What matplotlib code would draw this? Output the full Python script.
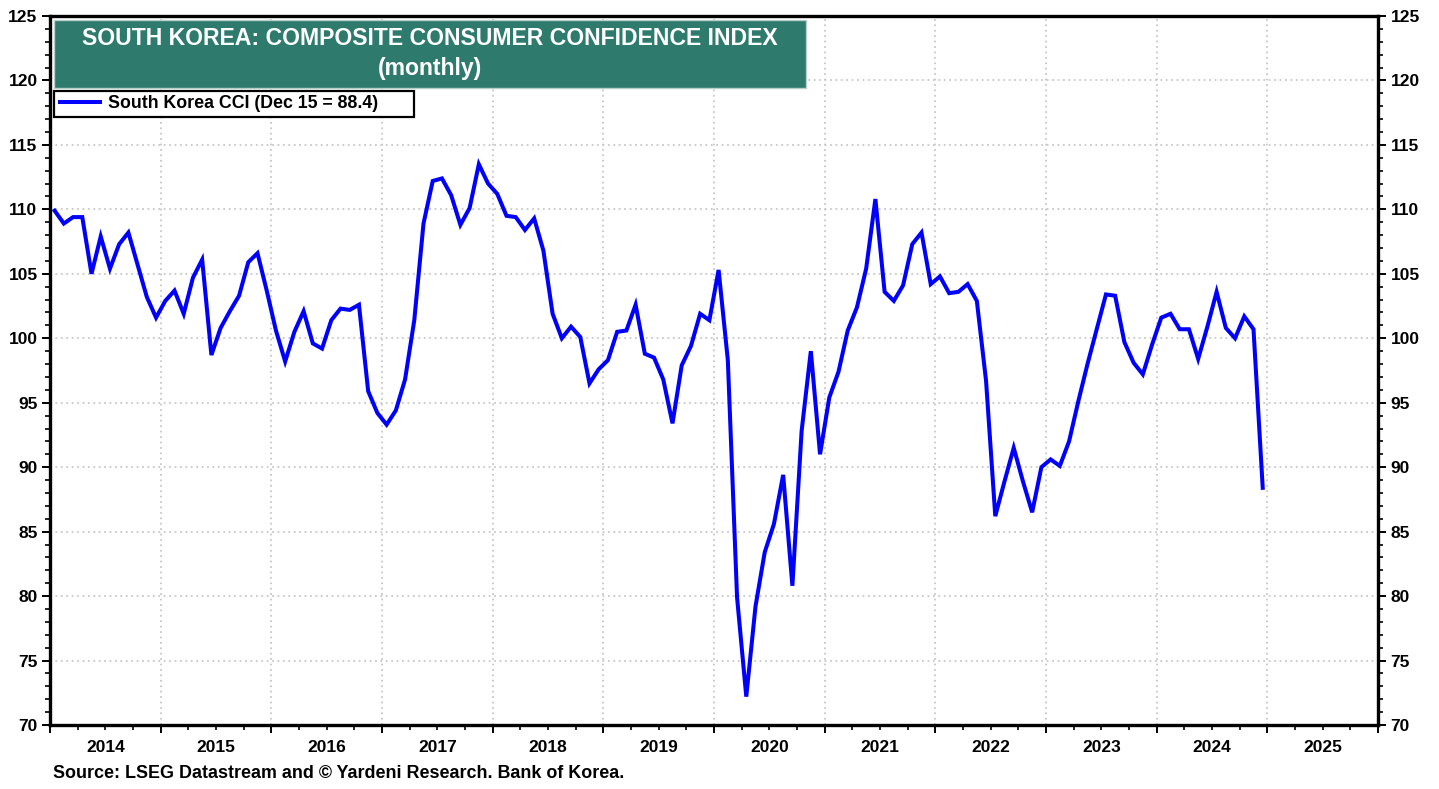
import numpy as np
import matplotlib.pyplot as plt
from matplotlib.patches import Rectangle
from matplotlib.ticker import MultipleLocator
import matplotlib.transforms as mtransforms

plt.rcParams['font.family'] = ['Liberation Sans', 'DejaVu Sans']

# monthly South Korea CCI, Jan 2014 .. Dec 2024
cci_2014 = [109.9, 108.9, 109.4, 109.4, 105.0, 107.9, 105.4, 107.3, 108.2, 105.7, 103.2, 101.6]
cci_2015 = [102.9, 103.7, 101.9, 104.7, 106.1, 98.7, 100.8, 102.1, 103.3, 105.9, 106.6, 103.7]
cci_2016 = [100.6, 98.2, 100.5, 102.1, 99.6, 99.2, 101.4, 102.3, 102.2, 102.6, 95.9, 94.2]
cci_2017 = [93.3, 94.4, 96.8, 101.4, 108.9, 112.2, 112.4, 111.1, 108.8, 110.1, 113.5, 112.0]
cci_2018 = [111.2, 109.5, 109.4, 108.4, 109.3, 106.8, 101.9, 100.0, 100.9, 100.1, 96.5, 97.6]
cci_2019 = [98.3, 100.5, 100.6, 102.6, 98.8, 98.5, 96.8, 93.4, 97.9, 99.4, 101.9, 101.4]
cci_2020 = [105.3, 98.3, 79.9, 72.2, 79.2, 83.4, 85.6, 89.4, 80.8, 92.8, 99.0, 91.0]
cci_2021 = [95.4, 97.4, 100.6, 102.4, 105.4, 110.8, 103.6, 102.9, 104.1, 107.3, 108.2, 104.2]
cci_2022 = [104.8, 103.5, 103.6, 104.2, 102.9, 96.7, 86.2, 88.9, 91.5, 88.9, 86.5, 90.0]
cci_2023 = [90.6, 90.1, 92.0, 95.1, 98.0, 100.7, 103.4, 103.3, 99.7, 98.1, 97.2, 99.5]
cci_2024 = [101.6, 101.9, 100.7, 100.7, 98.4, 100.9, 103.6, 100.8, 100.0, 101.7, 100.7, 88.4]

cci = np.array(cci_2014 + cci_2015 + cci_2016 + cci_2017 + cci_2018 + cci_2019 +
               cci_2020 + cci_2021 + cci_2022 + cci_2023 + cci_2024)
start_year = 2014
# each month plotted at its middle
t = start_year + (np.arange(len(cci)) + 0.5) / 12.0

years = list(range(2014, 2026))
title_line1 = 'SOUTH KOREA: COMPOSITE CONSUMER CONFIDENCE INDEX'
title_line2 = '(monthly)'
legend_label = 'South Korea CCI (Dec 15 = 88.4)'
source = 'Source: LSEG Datastream and \u00a9 Yardeni Research. Bank of Korea.'

W, H = 1439, 789
fig = plt.figure(figsize=(W / 100, H / 100), dpi=100)
ax = fig.add_axes([50 / W, (H - 725) / H, 1328 / W, 709 / H])

line, = ax.plot(t, cci, color='#0000ff', lw=2.9, solid_joinstyle='miter', label=legend_label)

ax.set_xlim(2014, 2026)
ax.set_ylim(70, 125)

# x: year boundaries as major ticks, quarters as minor, labels in the middle of each year
ax.set_xticks(years + [2026])
ax.set_xticklabels([])
ax.xaxis.set_minor_locator(MultipleLocator(0.25))
trans = mtransforms.blended_transform_factory(ax.transData, ax.transAxes)
for y in years:
    ax.text(y + 0.5, -0.021, str(y), transform=trans, ha='center', va='top',
            fontsize=12.5, fontweight='bold')

ax.yaxis.set_major_locator(MultipleLocator(5))
ax.yaxis.set_minor_locator(MultipleLocator(1))
ax.tick_params(axis='both', which='major', direction='out', length=6, width=1.4,
               labelsize=12.5, right=True, labelright=True)
ax.tick_params(axis='both', which='minor', direction='out', length=3.5, width=1.2, right=True)
ax.tick_params(axis='y', pad=3)
for lab in ax.get_yticklabels():
    lab.set_fontweight('bold')

ax.grid(True, which='major', color='#c8c8c8', linestyle=(0, (1, 2)), lw=1.3)
ax.set_axisbelow(True)

for s in ax.spines.values():
    s.set_linewidth(2.4)
    s.set_color('black')

# title box
fig.patches.append(Rectangle((54 / W, (H - 88) / H), 752 / W, 68 / H, transform=fig.transFigure,
                             facecolor='#2e7b6e', edgecolor='#b8cfc9', lw=1.0, zorder=5))
fig.text(430 / W, 1 - 38.5 / H, title_line1, ha='center', va='center', color='white',
         fontsize=16.6, fontweight='bold', zorder=6)
fig.text(430 / W, 1 - 68.5 / H, title_line2, ha='center', va='center', color='white',
         fontsize=16.6, fontweight='bold', zorder=6)

# legend box drawn by hand (inside the axes so the legend sits on top), legend without frame
ax.add_patch(Rectangle((54 / W, (H - 117) / H), 360 / W, 26 / H, transform=fig.transFigure,
                       facecolor='white', edgecolor='black', lw=1.6, zorder=4.5, clip_on=False))
leg = ax.legend(loc='center left', bbox_to_anchor=(55 / W, 1 - 104 / H),
                bbox_transform=fig.transFigure, borderaxespad=0, frameon=False,
                prop={'weight': 'bold', 'size': 12.8}, handlelength=2.25, handletextpad=0.45,
                borderpad=0.3)
leg.set_zorder(6)

fig.text(53 / W, 1 - 774 / H, source, ha='left', va='center', fontsize=12.9, fontweight='bold')

fig.savefig('out.png', dpi=100)
